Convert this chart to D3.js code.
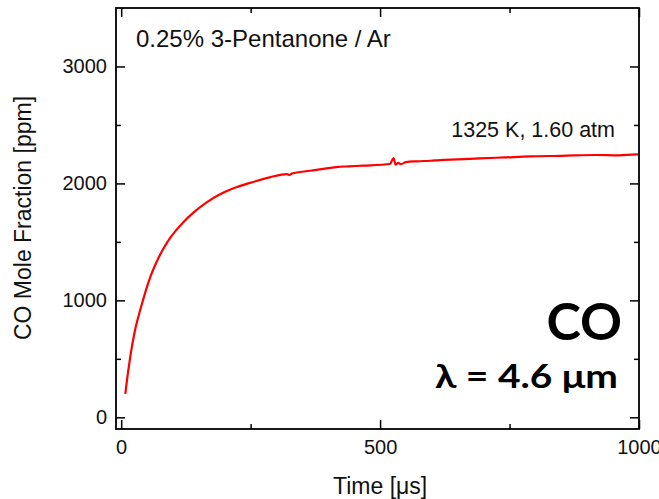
<!DOCTYPE html>
<html>
<head>
<meta charset="utf-8">
<script src="https://cdn.jsdelivr.net/npm/d3@7"></script>
<style>
  html, body { margin: 0; padding: 0; background: #fff; }
  svg { display: block; }
</style>
</head>
<body>
<svg id="chart" width="659" height="499"></svg>
<script>
// CO time-history, 0.25% 3-pentanone / Ar at 1325 K, 1.60 atm
const timeUs = [8, 12, 16, 20, 24, 28, 32, 40, 48, 56, 64, 72, 80, 88, 96, 104, 120, 140, 165, 190, 217, 249,
  287, 320, 325, 330, 365, 380, 397, 416, 440, 467, 519, 526, 530, 535, 540, 550, 571, 597,
  616, 650, 693, 740, 790, 850, 918, 960, 995, 1000];
const coPpm = [200, 345, 470, 585, 684, 770, 840, 969, 1090, 1197, 1285, 1362, 1430, 1490, 1542, 1588, 1668, 1752, 1838, 1905, 1958, 2005,
  2052, 2080, 2072, 2085, 2108, 2118, 2128, 2140, 2146, 2152, 2166, 2217, 2160, 2175, 2165, 2182, 2189, 2194,
  2200, 2205, 2214, 2222, 2231, 2236, 2243, 2240, 2248, 2245];
const xMajorTicks = [0, 500, 1000];
const xMinorTicks = [250, 750];
const yMajorTicks = [0, 1000, 2000, 3000];
const yMinorTicks = [500, 1500, 2500];

const margin = { left: 116, top: 8, right: 20, bottom: 70 };
const W = 659, H = 499;
const plotW = W - margin.left - margin.right;
const plotH = H - margin.top - margin.bottom;

const svg = d3.select("#chart");
const x = d3.scaleLinear().domain([-10, 1000]).range([0, plotW]);
const y = d3.scaleLinear().domain([-100, 3500]).range([plotH, 0]);

const g = svg.append("g").attr("transform", `translate(${margin.left},${margin.top})`);

const data = timeUs.map((t, i) => ({ t, v: coPpm[i] }));

// trace
g.append("path")
  .datum(data)
  .attr("fill", "none")
  .attr("stroke", "#ff0000")
  .attr("stroke-width", 2.2)
  .attr("stroke-linejoin", "round")
  .attr("d", d3.line().curve(d3.curveMonotoneX).x(d => x(d.t)).y(d => y(d.v)));

const font = "'Liberation Sans', Arial, sans-serif";
const tickStyle = sel => {
  sel.select(".domain").remove();
  sel.selectAll(".tick line").attr("stroke", "#000").attr("stroke-width", 1.5);
  sel.selectAll(".tick text").attr("font-family", font).attr("font-size", 20).attr("fill", "#111");
};

// bottom axis: ticks point inward
g.append("g").attr("transform", `translate(0,${plotH})`)
  .call(d3.axisBottom(x).tickValues(xMajorTicks).tickSizeInner(-9).tickPadding(11).tickFormat(d3.format("d")))
  .call(tickStyle);
g.append("g").attr("transform", `translate(0,${plotH})`)
  .call(d3.axisBottom(x).tickValues(xMinorTicks).tickSizeInner(-5).tickFormat(""))
  .call(tickStyle);
// top mirror
g.append("g")
  .call(d3.axisTop(x).tickValues(xMajorTicks).tickSizeInner(-9).tickFormat(""))
  .call(tickStyle);
g.append("g")
  .call(d3.axisTop(x).tickValues(xMinorTicks).tickSizeInner(-5).tickFormat(""))
  .call(tickStyle);

// left axis
g.append("g")
  .call(d3.axisLeft(y).tickValues(yMajorTicks).tickSizeInner(-9).tickPadding(9).tickFormat(d3.format("d")))
  .call(tickStyle);
g.append("g")
  .call(d3.axisLeft(y).tickValues(yMinorTicks).tickSizeInner(-5).tickFormat(""))
  .call(tickStyle);
// right mirror
g.append("g").attr("transform", `translate(${plotW},0)`)
  .call(d3.axisRight(y).tickValues(yMajorTicks).tickSizeInner(-9).tickFormat(""))
  .call(tickStyle);
g.append("g").attr("transform", `translate(${plotW},0)`)
  .call(d3.axisRight(y).tickValues(yMinorTicks).tickSizeInner(-5).tickFormat(""))
  .call(tickStyle);

// frame
g.append("rect")
  .attr("width", plotW).attr("height", plotH)
  .attr("fill", "none").attr("stroke", "#000").attr("stroke-width", 1.8);

// axis titles
svg.append("text")
  .attr("x", margin.left + x(500)).attr("y", 494)
  .attr("text-anchor", "middle")
  .attr("font-family", font).attr("font-size", 23).attr("fill", "#111")
  .text("Time [μs]");
svg.append("text")
  .attr("transform", `translate(31,218) rotate(-90)`)
  .attr("text-anchor", "middle")
  .attr("font-family", font).attr("font-size", 23).attr("fill", "#111")
  .text("CO Mole Fraction [ppm]");

// annotations
g.append("text")
  .attr("x", 20).attr("y", 39)
  .attr("font-family", font).attr("font-size", 24).attr("fill", "#111")
  .text("0.25% 3-Pentanone / Ar");
g.append("text")
  .attr("x", 499).attr("y", 129)
  .attr("text-anchor", "end")
  .attr("font-family", font).attr("font-size", 21.5).attr("fill", "#111")
  .text("1325 K, 1.60 atm");
g.append("text")
  .attr("x", 506).attr("y", 332)
  .attr("text-anchor", "end")
  .attr("font-family", "Lato, 'Open Sans', sans-serif").attr("font-weight", "bold")
  .attr("font-size", 52).attr("fill", "#000")
  .text("CO");
g.append("text")
  .attr("x", 319).attr("y", 380)
  .attr("font-family", "Lato, 'Open Sans', sans-serif").attr("font-weight", "bold")
  .attr("font-size", 32).attr("fill", "#000")
  .attr("textLength", 183).attr("lengthAdjust", "spacingAndGlyphs")
  .text("λ = 4.6 μm");
</script>
</body>
</html>
